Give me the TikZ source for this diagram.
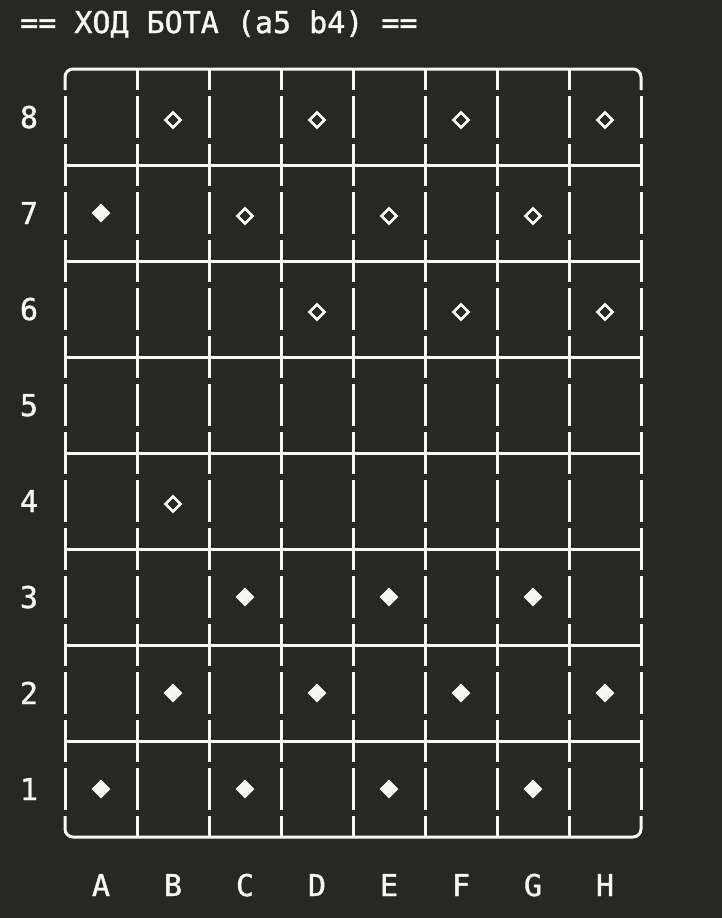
\documentclass[tikz,border=0pt]{standalone}
\usepackage{fontspec}
\newfontfamily\termfont[FakeBold=1.2]{DejaVu Sans Mono}
\usetikzlibrary{shapes.geometric}
\definecolor{termbg}{RGB}{39,40,34}
\definecolor{termfg}{RGB}{248,248,242}
\tikzset{
  boardline/.style={draw=termfg, line width=3pt},
  lbl/.style={text=termfg, font=\termfont\fontsize{30}{36}\selectfont, inner sep=0pt},
  ownpiece/.style={diamond, fill=termfg, inner sep=0pt, minimum width=19pt, minimum height=19pt},
  botpiece/.style={diamond, draw=termfg, line width=2.6pt, inner sep=0pt, minimum width=16pt, minimum height=16pt},
}
\begin{document}
\begin{tikzpicture}[x=1pt,y=-1pt]
	\fill[termbg] (0,0) rectangle (722,918);
	\useasboundingbox (0,0) rectangle (722,918);
	
	% title line
	\node[lbl, anchor=base west] (title) at (20,33) {== ХОД БОТА (a5 b4) ==};
	
	% frame, rounded corners
	\draw[boardline, rounded corners=8pt] (65,90) |- (641,69) -- (641,90);
	\draw[boardline, rounded corners=8pt] (65,816) |- (641,837) -- (641,816);
	\foreach \i in {1,...,7} {
		\draw[boardline] ({65+72*\i},69) -- ({65+72*\i},90);
		\draw[boardline] ({65+72*\i},816) -- ({65+72*\i},837);
	}
	% vertical bars, one per text line
	\foreach \j in {1,...,15}
		\foreach \i in {0,...,8}
			\draw[boardline] ({65+72*\i},{48+48*\j}) -- ({65+72*\i},{90+48*\j});
	% rank separators
	\foreach \k in {1,...,7}
		\draw[boardline] (65,{69+96*\k}) -- (641,{69+96*\k});
	
	% ranks and files
	\foreach \r in {1,...,8}
		\node[lbl, anchor=base] (r\r) at (29,{128+96*(8-\r)}) {\r};
	\foreach \c [count=\i from 0] in {A,B,C,D,E,F,G,H}
		\node[lbl, anchor=base] (f\c) at ({101+72*\i},896) {\c};
	
	% bot pieces
	\foreach \x/\y/\n in {1/8/b8,3/8/d8,5/8/f8,7/8/h8,2/7/c7,4/7/e7,6/7/g7,3/6/d6,5/6/f6,7/6/h6,1/4/b4}
		\node[botpiece] (\n) at ({101+72*\x},{120+96*(8-\y)}) {};
	% player pieces
	\foreach \x/\y/\n in {0/7/a7,2/3/c3,4/3/e3,6/3/g3,1/2/b2,3/2/d2,5/2/f2,7/2/h2,0/1/a1,2/1/c1,4/1/e1,6/1/g1}
		\node[ownpiece] (\n) at ({101+72*\x},{117+96*(8-\y)}) {};
\end{tikzpicture}
\end{document}
